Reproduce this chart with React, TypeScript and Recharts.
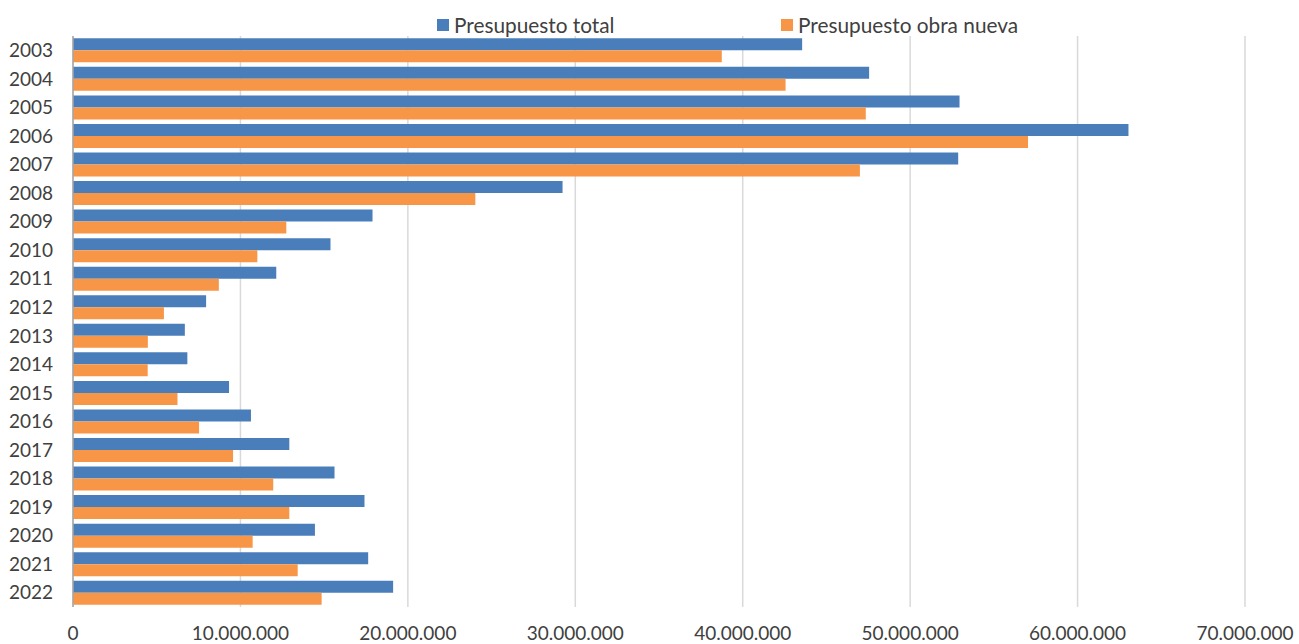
import React from 'react';
import {
  BarChart,
  Bar,
  XAxis,
  YAxis,
  CartesianGrid,
  Legend,
} from 'recharts';

// Presupuesto anual (euros)
const years = [
  '2003', '2004', '2005', '2006', '2007', '2008', '2009', '2010', '2011', '2012',
  '2013', '2014', '2015', '2016', '2017', '2018', '2019', '2020', '2021', '2022',
];

const presupuestoTotal = [
  43550000, 47550000, 52950000, 63040000, 52870000, 29240000, 17890000, 15380000, 12140000, 7950000,
  6680000, 6830000, 9320000, 10630000, 12920000, 15620000, 17410000, 14450000, 17630000, 19120000,
];

const presupuestoObraNueva = [
  38750000, 42560000, 47350000, 57040000, 47000000, 24030000, 12740000, 11010000, 8710000, 5430000,
  4470000, 4460000, 6240000, 7530000, 9560000, 11960000, 12920000, 10730000, 13420000, 14850000,
];

const xTicks = [0, 10000000, 20000000, 30000000, 40000000, 50000000, 60000000, 70000000];

const data = years.map((year, i) => ({
  year,
  total: presupuestoTotal[i],
  obraNueva: presupuestoObraNueva[i],
}));

const FONT = 'Lato, "Open Sans", sans-serif';
const TEXT_COLOR = '#404040';
const BLUE = '#4a7ebb';
const ORANGE = '#f79646';

const series = [
  { key: 'total', name: 'Presupuesto total', color: BLUE, left: 437 },
  { key: 'obraNueva', name: 'Presupuesto obra nueva', color: ORANGE, left: 781 },
];

const formatMiles = (v: number) => String(v).replace(/\B(?=(\d{3})+(?!\d))/g, '.');

const renderLegend = () => (
  <div style={{ position: 'relative', height: 24, fontFamily: FONT, fontSize: 20.8, color: TEXT_COLOR }}>
    {series.map((s) => (
      <div
        key={s.key}
        style={{
          position: 'absolute',
          left: s.left,
          top: 0,
          display: 'flex',
          alignItems: 'center',
          whiteSpace: 'nowrap',
        }}
      >
        <span style={{ width: 12, height: 12, background: s.color, marginRight: 5, display: 'inline-block' }} />
        <span>{s.name}</span>
      </div>
    ))}
  </div>
);

export default function App() {
  return (
    <div style={{ position: 'absolute', left: 0, top: 0, width: 1299, height: 644, background: '#fff' }}>
      <BarChart
        width={1299}
        height={644}
        data={data}
        layout="vertical"
        margin={{ top: 36, right: 54, bottom: 7, left: 0 }}
        barGap={0}
        barCategoryGap={2.3}
      >
        <CartesianGrid horizontal={false} stroke="#d9d9d9" strokeWidth={1.5} />
        <XAxis
          type="number"
          domain={[0, 70000000]}
          ticks={xTicks}
          tickFormatter={formatMiles}
          axisLine={false}
          tickLine={false}
          tickMargin={14}
          height={30}
          interval={0}
          tick={{ fill: TEXT_COLOR, fontSize: 19, fontFamily: FONT }}
        />
        <YAxis
          type="category"
          dataKey="year"
          width={73}
          axisLine={{ stroke: '#a6a6a6', strokeWidth: 1.5 }}
          tickLine={false}
          tickMargin={14}
          interval={0}
          tick={{ fill: TEXT_COLOR, fontSize: 19, fontFamily: FONT }}
        />
        <Legend
          verticalAlign="middle"
          layout="horizontal"
          wrapperStyle={{ left: 0, top: 12, width: 1299 }}
          content={renderLegend}
        />
        {series.map((s) => (
          <Bar key={s.key} dataKey={s.key} name={s.name} fill={s.color} isAnimationActive={false} />
        ))}
      </BarChart>
    </div>
  );
}
